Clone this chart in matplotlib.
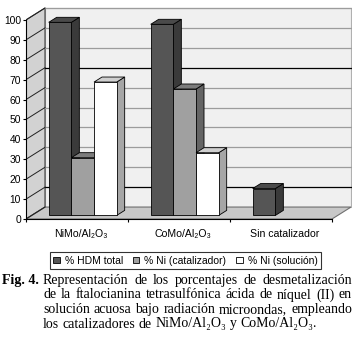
import matplotlib
matplotlib.use('Agg')
import matplotlib.pyplot as plt
from matplotlib.patches import Polygon, Rectangle

# ---- data ----
categories = ['NiMo/Al₂O₃', 'CoMo/Al₂O₃', 'Sin catalizador']
series_names = ['% HDM total', '% Ni (catalizador)', '% Ni (solución)']
hdm_total = [97, 96, 13.5]
ni_catalizador = [29, 63.5, 0]
ni_solucion = [67, 31.5, 0]
y_ticks = [0, 10, 20, 30, 40, 50, 60, 70, 80, 90, 100]

caption_label = 'Fig. 4.'
caption_lines = [
    'Representación de los porcentajes de desmetalización',
    'de la ftalocianina tetrasulfónica ácida de níquel (II) en',
    'solución acuosa bajo radiación microondas, empleando',
    'los catalizadores de NiMo/Al₂O₃ y CoMo/Al₂O₃.',
]

# ---- style ----
W, H = 356, 342
SANS = ['Liberation Sans', 'DejaVu Sans']
SERIF = ['Liberation Serif', 'DejaVu Serif']
face = ['#555555', '#a0a0a0', '#ffffff']
top = ['#4a4a4a', '#7c7c7c', '#cfcfcf']
side = ['#3a3a3a', '#646464', '#a6a6a6']

fig = plt.figure(figsize=(W / 100, H / 100), dpi=100)
fig.patch.set_facecolor('white')
ax = fig.add_axes([26 / W, 123 / H, 326.4 / W, 213 / H])
ax.set_xlim(0, 3.2)
ax.set_ylim(0, 107)
ax.patch.set_visible(False)

n_cat = len(categories)
DX, DY = 19 / 102, 6.0      # depth vector of the 3D box (data units)
D0, DD = 0.30, 0.42         # bar depth start / thickness (fraction)
bw = 1 / 4.5                # bar width (gap width 150%)

# walls
ax.add_patch(Polygon([(DX, DY), (n_cat + DX, DY), (n_cat + DX, 100 + DY), (DX, 100 + DY)],
                     closed=True, facecolor='#f0f0f0', edgecolor='#b0b0b0', lw=0.8, zorder=1))
ax.add_patch(Polygon([(0, 0), (DX, DY), (DX, 100 + DY), (0, 100)],
                     closed=True, facecolor='#d2d2d2', edgecolor='#404040', lw=0.8, zorder=1))
ax.add_patch(Polygon([(0, 0), (n_cat, 0), (n_cat + DX, DY), (DX, DY)],
                     closed=True, facecolor='#c8c8c8', edgecolor='#707070', lw=0.8, zorder=1.5))

for v in y_ticks[1:]:
    col = '#000000' if v in (10, 70) else '#9c9c9c'
    ax.plot([DX, n_cat + DX], [v + DY, v + DY], color=col, lw=0.9, zorder=1.2)
    ax.plot([0, DX], [v, v + DY], color='#202020', lw=0.7, zorder=1.2)
ax.plot([0, DX], [0, DY], color='#202020', lw=0.8, zorder=1.6)

# bars
series = [hdm_total, ni_catalizador, ni_solucion]
ox, oy = D0 * DX, D0 * DY
px, py = DD * DX, DD * DY
z = 3
for i in range(n_cat):
    for j, vals in enumerate(series):
        v = vals[i]
        if v <= 0:
            continue
        x0 = i + (0.75 + j) * bw + ox
        x1 = x0 + bw
        kw = dict(closed=True, edgecolor='black', lw=0.6, zorder=z)
        ax.add_patch(Polygon([(x1, oy), (x1 + px, oy + py), (x1 + px, v + oy + py), (x1, v + oy)],
                             facecolor=side[j], **kw))
        ax.add_patch(Polygon([(x0, v + oy), (x1, v + oy), (x1 + px, v + oy + py), (x0 + px, v + oy + py)],
                             facecolor=top[j], **kw))
        ax.add_patch(Rectangle((x0, oy), bw, v, facecolor=face[j], edgecolor='black', lw=0.6, zorder=z))
        z += 0.1

# axes
for s in ('top', 'right'):
    ax.spines[s].set_visible(False)
ax.spines['left'].set_bounds(0, 100)
ax.spines['bottom'].set_bounds(0, n_cat)
ax.spines['left'].set_zorder(5)
ax.spines['bottom'].set_zorder(5)
ax.set_yticks(y_ticks)
ax.set_yticklabels([str(t) for t in y_ticks], fontfamily=SANS, fontsize=7.4)
ax.tick_params(axis='y', direction='out', length=2.5, width=0.8, pad=1)
ax.set_xticks(list(range(n_cat + 1)))
ax.set_xticklabels([])
ax.set_xticks([i + 0.54 for i in range(n_cat)], minor=True)
ax.set_xticklabels(categories, minor=True, fontfamily=SANS, fontsize=7.6)
ax.tick_params(axis='x', which='major', direction='out', length=2.5, width=0.8)
ax.tick_params(axis='x', which='minor', length=0, pad=7)

# legend
handles = [Rectangle((0, 0), 1, 1, facecolor=face[j], edgecolor='black', lw=0.6) for j in range(3)]
leg = fig.legend(handles, series_names, loc='center', bbox_to_anchor=(185.5 / W, 1 - 260.5 / H),
                 ncol=3, frameon=True, fancybox=False, edgecolor='black',
                 handlelength=0.6, handleheight=0.6, handletextpad=0.5, columnspacing=0.95,
                 borderpad=0.3, prop={'family': SANS, 'size': 7.5})
leg.get_frame().set_linewidth(0.8)

# caption (justified)
renderer = fig.canvas.get_renderer()
fs = 10.0
baselines = [284, 298.5, 313, 327.5]
fig.text(2 / W, 1 - baselines[0] / H, caption_label, fontfamily=SERIF, fontsize=fs,
         fontweight='bold', va='baseline', ha='left')


def twidth(s):
    t = fig.text(0, 0, s, fontfamily=SERIF, fontsize=fs)
    w = t.get_window_extent(renderer).width
    t.remove()
    return w


space_w = twidth('x x') - twidth('xx')
x_left, x_right = 43, 352
for k, line in enumerate(caption_lines):
    words = line.split(' ')
    widths = [twidth(wd) for wd in words]
    if k < len(caption_lines) - 1:
        gap = (x_right - x_left - sum(widths)) / (len(words) - 1)
    else:
        gap = space_w
    x = x_left
    for wd, wdt in zip(words, widths):
        fig.text(x / W, 1 - baselines[k] / H, wd, fontfamily=SERIF, fontsize=fs,
                 va='baseline', ha='left')
        x += wdt + gap

fig.savefig('out.png', dpi=100)
